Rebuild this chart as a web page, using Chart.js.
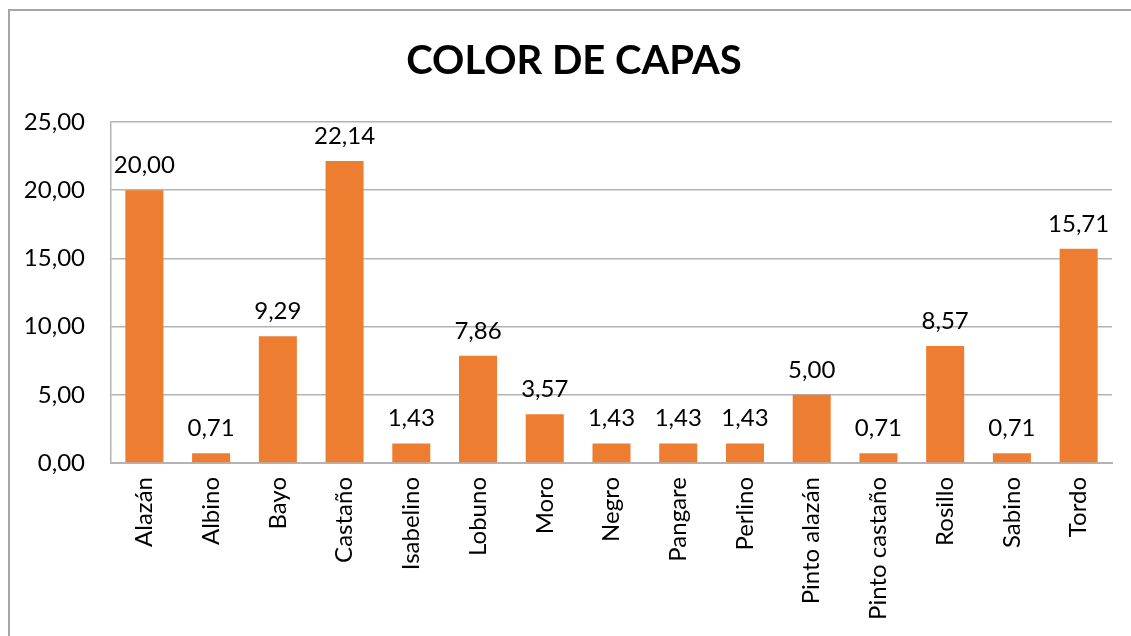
<!DOCTYPE html>
<html>
<head>
<meta charset="utf-8">
<script src="https://cdn.jsdelivr.net/npm/chart.js@4.4.0/dist/chart.umd.min.js"></script>
<style>
    html, body { margin: 0; padding: 0; background: #fff; overflow: hidden; }
    #frame { position: absolute; left: 8px; top: 9px; width: 1200px; height: 700px; border: 2px solid #a6a6a6; box-sizing: border-box; }
    #chart { position: absolute; left: 0; top: 0; }
</style>
</head>
<body>
<div id="frame"></div>
<canvas id="chart" width="1131" height="636"></canvas>
<script>
const categories = ['Alazán', 'Albino', 'Bayo', 'Castaño', 'Isabelino', 'Lobuno', 'Moro', 'Negro',
    'Pangare', 'Perlino', 'Pinto alazán', 'Pinto castaño', 'Rosillo', 'Sabino', 'Tordo'];
const percentages = [20.00, 0.71, 9.29, 22.14, 1.43, 7.86, 3.57, 1.43, 1.43, 1.43, 5.00, 0.71, 8.57, 0.71, 15.71];
const yTicks = [0, 5, 10, 15, 20, 25];
const chartTitle = 'COLOR DE CAPAS';

const FONT = 'Lato, "Open Sans", sans-serif';

function fmt(v) {
    return v.toFixed(2).replace('.', ',');
}

// values above the bars, like Excel data labels, plus the title
// (Excel centres the title on the whole frame, not on the plot)
const barLabels = {
    id: 'barLabels',
    afterDatasetsDraw(chart) {
        const ctx = chart.ctx;
        const meta = chart.getDatasetMeta(0);
        ctx.save();
        ctx.font = '24px ' + FONT;
        ctx.fillStyle = '#000';
        ctx.textAlign = 'center';
        ctx.textBaseline = 'alphabetic';
        meta.data.forEach(function(bar, i) {
            ctx.fillText(fmt(percentages[i]), bar.x, bar.y - 17);
        });
        ctx.font = 'bold 40px ' + FONT;
        ctx.fillText(chartTitle, 574, 74);
        ctx.restore();
    }
};

const ctx = document.getElementById('chart').getContext('2d');
const chart = new Chart(ctx, {
    type: 'bar',
    data: {
        labels: categories,
        datasets: [{
            data: percentages,
            backgroundColor: '#ED7D31',
            barPercentage: 0.57,
            categoryPercentage: 1.0
        }]
    },
    options: {
        responsive: false,
        animation: false,
        layout: { padding: { left: 0, right: 19, top: 122, bottom: 0 } },
        plugins: {
            legend: { display: false },
            tooltip: { enabled: false },
            title: { display: false }
        },
        scales: {
            x: {
                grid: { display: false, drawTicks: false },
                border: { display: true, color: '#b3b3b3', width: 2 },
                ticks: {
                    color: '#000',
                    font: { family: FONT, size: 24 },
                    maxRotation: 90,
                    minRotation: 90,
                    padding: 14,
                    autoSkip: false
                },
                afterFit(scale) { scale.height = 173; }
            },
            y: {
                min: 0,
                max: 25,
                afterBuildTicks(scale) {
                    scale.ticks = yTicks.map(function(v) { return { value: v }; });
                },
                grid: { color: '#b3b3b3', lineWidth: 1.5, drawTicks: false },
                border: { display: true, color: '#b3b3b3', width: 1.5 },
                ticks: {
                    color: '#000',
                    font: { family: FONT, size: 24 },
                    padding: 26,
                    callback: function(v) { return fmt(v); }
                },
                afterFit(scale) { scale.width = 111; }
            }
        }
    },
    plugins: [barLabels]
});
</script>
</body>
</html>
